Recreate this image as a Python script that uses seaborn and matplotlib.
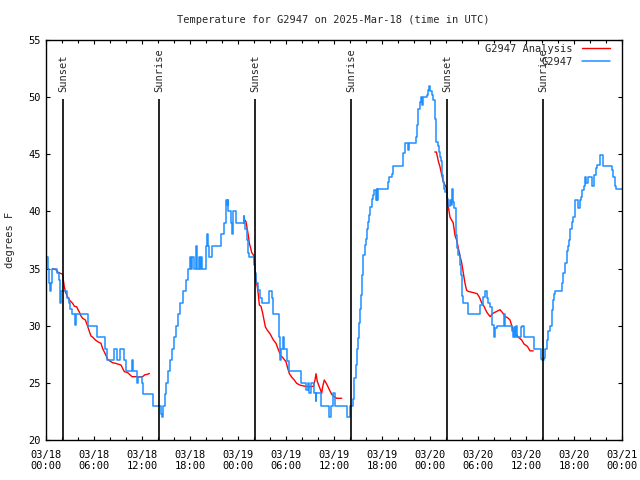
import pandas as pd
import matplotlib
import matplotlib.pyplot as plt
import matplotlib.dates as mdates
import seaborn as sns

matplotlib.use('Agg')

# Station observations: hours after 2025-03-18 00:00 UTC, temp (deg F) held until next change
obs_hours = [0.0, 0.3, 0.42, 0.54, 0.63, 0.8, 1.4, 1.58, 1.7, 1.79, 1.9, 2.65, 2.85, 3.04, 3.25, 3.65, 3.78,
             5.2, 6.4, 7.4, 7.65, 8.45, 8.85, 9.2, 9.7, 10.0, 10.7, 10.85, 11.4, 11.5, 11.95, 12.1, 13.4,
             14.4, 14.5, 14.65, 14.85, 15.05, 15.25, 15.45, 15.7, 15.95, 16.2, 16.5, 16.8, 17.1, 17.45, 17.75,
             18.0, 18.1, 18.2, 18.5, 18.75, 18.9, 19.1, 19.25, 19.4, 19.5, 19.95, 20.15, 20.3, 20.4, 20.7,
             21.9, 22.25, 22.45, 22.6, 22.7, 22.8, 23.15, 23.3, 23.4, 23.7, 24.7, 24.8, 24.9, 25.1, 25.25,
             25.4, 26.0, 26.15, 26.3, 26.45, 26.7, 26.95, 27.9, 28.2, 28.4, 29.1, 29.25, 29.4, 29.6, 29.8,
             30.1, 30.4, 31.9, 32.5, 32.8, 32.9, 33.1, 33.5, 33.7, 33.8, 34.4, 35.4, 35.6, 35.9, 36.1, 37.6,
             37.95, 38.4, 38.54, 38.75, 38.875, 39.04, 39.17, 39.29, 39.375, 39.46, 39.58, 39.67, 39.875,
             40.0, 40.17, 40.29, 40.42, 40.54, 40.7, 40.875, 41.04, 41.2, 41.33, 41.4, 41.54, 42.79, 42.9,
             43.2, 43.4, 44.67, 44.875, 45.2, 45.375, 46.2, 46.33, 46.46, 46.54, 46.75, 46.875, 47.04,
             47.17, 47.58, 47.79, 47.9, 48.04, 48.2, 48.4, 48.625, 48.75, 48.96, 49.125, 49.25, 49.33,
             49.46, 49.58, 49.79, 49.875, 50.08, 50.29, 50.5, 50.625, 50.7, 50.79, 50.9, 51.04, 51.2,
             51.33, 51.54, 51.75, 51.875, 51.96, 52.04, 52.17, 52.8, 54.2, 54.6, 54.85, 55.08, 55.3, 55.5,
             55.7, 56.04, 56.17, 56.33, 57.3, 57.4, 58.2, 58.33, 58.5, 58.67, 58.75, 58.9, 59.4, 59.5,
             59.8, 61.0, 61.83, 61.96, 62.2, 62.4, 62.6, 62.8, 63.0, 63.2, 63.33, 63.5, 63.67, 64.55,
             64.67, 64.875, 65.08, 65.2, 65.4, 65.54, 65.7, 65.9, 66.1, 66.45, 66.7, 66.875, 67.04, 67.2,
             67.375, 67.55, 67.7, 68.2, 68.45, 68.7, 68.9, 69.3, 69.58, 70.7, 70.9, 71.1, 71.25, 72.0]
obs_temps = [36, 35, 33.7, 33, 33.7, 35, 34.6, 34, 32.4, 32, 33, 32.4, 32, 31.5, 31, 30.1, 31,
             30, 29, 28, 27, 28, 27, 28, 27, 26, 27, 26, 25, 25.5, 25, 24, 23,
             22.3, 22, 23, 24, 25, 26, 27, 28, 29, 30, 31, 32, 33, 34, 35,
             36, 35, 36, 35, 37, 35, 36, 35, 36, 35, 37, 38, 37, 36, 37,
             38, 39, 41, 40.6, 41, 40, 39, 38, 40, 39, 39.6, 39, 38.5, 37.5, 36.4,
             36, 35.3, 34.6, 33.7, 33.1, 32.4, 32, 33, 32.4, 31, 29, 27, 28, 29, 28,
             26.9, 26, 25, 24.4, 25, 24.1, 25, 24.1, 23.4, 24.1, 23, 22, 23, 24.1, 23, 22,
             23, 23.6, 25.4, 26.6, 28, 28.9, 30.2, 31.5, 32.7, 34.4, 35.3, 36.2, 37.1,
             37.6, 38.5, 39.1, 39.7, 40.4, 41.1, 41.4, 41.9, 41, 42, 41, 42, 42.6, 43,
             43.3, 44, 45.1, 46, 45.4, 46, 46.5, 47.6, 48.4, 49, 49.6, 50, 49.3,
             50, 50.2, 50.6, 51, 50.5, 50.2, 49.75, 48.1, 46.1, 45.7, 45.2, 44.8, 44.4,
             43.2, 42.6, 42, 41.7, 41.1, 40.5, 41, 40.6, 41.4, 42, 40.85, 40.3, 37.9,
             36.8, 36.2, 35.3, 34.4, 33.3, 32.6, 32, 31, 31.8, 32.5, 33, 32.4, 32, 31.6,
             30.1, 29, 29.8, 30, 31, 30, 29.5, 29, 29.9, 29, 30, 29, 29.9, 30,
             29, 28, 27.1, 27, 27.2, 28, 28.75, 29.5, 30, 31.4, 32.25, 32.8, 33, 33.7,
             34.6, 35.5, 36.5, 37, 37.5, 38.5, 39.1, 39.5, 41, 40.3, 41, 41.3, 41.9, 42.2,
             43, 42.5, 43, 42.2, 43.2, 43.8, 44.1, 44.9, 44, 43.6, 43, 42.2, 42, 42]

# Analysis runs (night-time only)
ana1_hours = [0.83, 1.25, 1.46, 1.75, 2.08, 2.17, 2.29, 2.42, 2.58, 2.75, 2.92, 3.125, 3.33, 3.54, 3.83,
              4.0, 4.17, 4.33, 4.58, 4.92, 5.08, 5.25, 5.42, 5.625, 5.83, 6.17, 6.46, 6.875, 7.08, 7.29,
              7.5, 7.71, 7.92, 8.125, 8.33, 8.75, 8.96, 9.375, 9.58, 9.79, 10.2, 10.5, 10.75, 11.46,
              12.08, 12.33, 12.7, 12.92]
ana1_temps = [35.0, 34.9, 34.7, 34.6, 34.5, 34.0, 33.4, 33.0, 32.7, 32.45, 32.25, 32.1, 31.96, 31.7, 31.66,
              31.4, 31.2, 30.9, 30.65, 30.5, 30.2, 29.86, 29.5, 29.1, 29.0, 28.75, 28.6, 28.46, 28.0, 27.7,
              27.4, 27.06, 26.94, 26.85, 26.76, 26.7, 26.65, 26.56, 26.27, 25.98, 25.9, 25.7, 25.54, 25.54,
              25.54, 25.7, 25.75, 25.83]
ana2_hours = [24.8, 25.0, 25.17, 25.29, 25.42, 25.58, 25.71, 25.92, 26.04, 26.125, 26.25, 26.42, 26.54,
              26.67, 26.875, 27.08, 27.25, 27.42, 27.67, 28.0, 28.42, 28.75, 29.04, 29.33, 29.67, 30.0,
              30.21, 30.42, 30.71, 31.04, 31.33, 31.75, 32.375, 33.0, 33.42, 33.625, 33.75, 33.92, 34.25,
              34.46, 34.58, 34.79, 35.08, 35.42, 35.71, 35.92, 36.33, 36.96]
ana2_temps = [39.3, 39.1, 38.4, 37.9, 37.2, 36.8, 36.4, 36.2, 35.75, 35.0, 34.0, 33.4, 32.7,
              31.8, 31.7, 31.1, 30.5, 29.9, 29.6, 29.3, 28.75, 28.46, 27.9, 27.4, 27.15, 26.85,
              26.3, 25.8, 25.5, 25.25, 24.96, 24.8, 24.7, 24.66, 24.7, 25.25, 25.8, 25.1, 24.5,
              24.08, 24.66, 25.25, 24.9, 24.4, 24.0, 23.85, 23.65, 23.65]
ana3_hours = [48.6, 48.8, 49.04, 49.25, 49.46, 49.67, 49.875, 50.08, 50.2, 50.29, 50.5, 50.7, 50.9,
              51.125, 51.33, 51.75, 51.96, 52.17, 52.375, 52.58, 52.8, 53.4, 53.9, 54.17, 54.46, 54.75,
              55.08, 55.5, 55.9, 56.33, 56.75, 57.0, 57.4, 57.7, 58.0, 58.4, 58.75, 59.04, 59.46, 59.75,
              60.17, 60.5, 60.9]
ana3_temps = [45.2, 45.2, 44.4, 43.9, 43.2, 42.6, 42.3, 42.0, 41.0, 40.4, 39.5, 39.25, 39.0,
              37.9, 37.5, 36.1, 35.5, 34.6, 33.7, 33.1, 33.0, 32.9, 32.8, 32.5, 32.0, 31.7,
              31.2, 30.8, 31.1, 31.25, 31.4, 31.2, 30.8, 30.7, 30.5, 29.6, 29.3, 29.0, 28.75, 28.4,
              28.2, 27.8, 27.8]

sun_hours = [2.15, 14.15, 26.17, 38.13, 50.18, 62.1]
sun_labels = ['Sunset', 'Sunrise', 'Sunset', 'Sunrise', 'Sunset', 'Sunrise']

start = pd.Timestamp('2025-03-18 00:00')


def to_time(hours):
    return start + pd.to_timedelta(hours, unit='h')


sns.set_style('white')
plt.rcParams['font.family'] = ['DejaVu Sans Mono']
plt.rcParams['font.size'] = 7.5

fig = plt.figure(figsize=(6.4, 4.8), dpi=100)
ax = fig.add_axes([46 / 640, 40 / 480, 576 / 640, 400 / 480])

# analysis first (legend order), then observations
for i, (h, t) in enumerate([(ana1_hours, ana1_temps), (ana2_hours, ana2_temps), (ana3_hours, ana3_temps)]):
    sns.lineplot(x=to_time(h), y=t, ax=ax, color='#ff0000', lw=1.0, estimator=None,
                 label='G2947 Analysis' if i == 0 else None, legend=False)
sns.lineplot(x=to_time(obs_hours), y=obs_temps, ax=ax, color='#1e90ff', lw=1.1, estimator=None,
             drawstyle='steps-post', label='G2947', legend=False)

# sunrise / sunset markers
ax.vlines(to_time(sun_hours), 20, 49.8, colors='black', lw=1.2)
for h, lab in zip(sun_hours, sun_labels):
    ax.text(to_time(h), 50.45, lab, rotation=90, ha='center', va='bottom', fontsize=7.5)

ax.set_xlim(to_time(0), to_time(72))
ax.set_ylim(20, 55)
ax.set_yticks(range(20, 56, 5))
ax.xaxis.set_major_locator(mdates.HourLocator(byhour=[0, 6, 12, 18]))
ax.xaxis.set_minor_locator(mdates.HourLocator(interval=2))
ax.xaxis.set_major_formatter(mdates.DateFormatter('%m/%d\n%H:%M'))
ax.set_xlabel('')
ax.set_ylabel('')

for s in ax.spines.values():
    s.set_color('black')
    s.set_linewidth(1.0)
ax.tick_params(which='both', direction='in', top=True, right=True, bottom=True, left=True,
               colors='black', width=0.8, labelsize=7.5)
ax.tick_params(which='major', length=3.2)
ax.tick_params(which='minor', length=2.4)
ax.tick_params(axis='x', which='major', pad=7)
ax.tick_params(axis='y', which='major', pad=4)

handles, labels = ax.get_legend_handles_labels()
ax.legend(handles, labels, loc='upper right', bbox_to_anchor=(0.979, 0.99), frameon=False,
          markerfirst=False, handlelength=2.7, handletextpad=0.9, labelspacing=0.25,
          borderpad=0, borderaxespad=0, fontsize=7.5)

fig.text(333 / 640, 1 - 20 / 480, 'Temperature for G2947 on 2025-Mar-18 (time in UTC)',
         ha='center', va='center', fontsize=7.5)
fig.text(10 / 640, 0.5, 'degrees F', rotation=90, ha='center', va='center', fontsize=7.5)

fig.savefig('out.png', dpi=100)
